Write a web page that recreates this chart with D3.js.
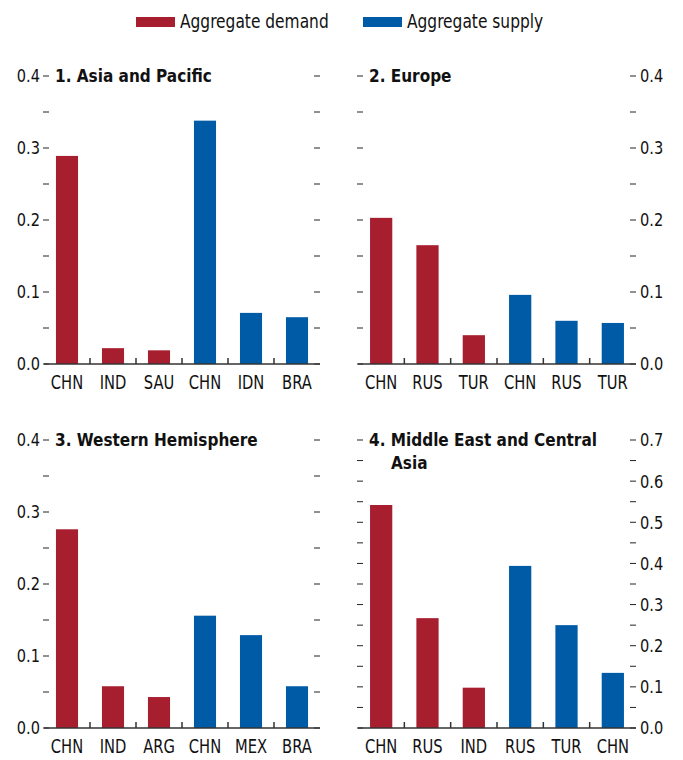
<!DOCTYPE html>
<html>
<head>
<meta charset="utf-8">
<script src="https://cdn.jsdelivr.net/npm/d3@7"></script>
<style>
  body { margin: 0; background: #fff; }
  svg text { font-family: "Liberation Sans Narrow", "DejaVu Sans Condensed", "Liberation Sans", sans-serif; fill: #111; }
</style>
</head>
<body>
<svg id="chart" width="683" height="760"></svg>
<script>
// DATA
const seriesNames = ["Aggregate demand", "Aggregate supply"];
const seriesColors = ["#A71F2F", "#005BA6"];

const asiaLabels = ["CHN", "IND", "SAU", "CHN", "IDN", "BRA"];
const asiaValues = [0.289, 0.022, 0.019, 0.338, 0.071, 0.065];

const europeLabels = ["CHN", "RUS", "TUR", "CHN", "RUS", "TUR"];
const europeValues = [0.203, 0.165, 0.040, 0.096, 0.060, 0.057];

const westLabels = ["CHN", "IND", "ARG", "CHN", "MEX", "BRA"];
const westValues = [0.276, 0.058, 0.043, 0.156, 0.129, 0.058];

const meLabels = ["CHN", "RUS", "IND", "RUS", "TUR", "CHN"];
const meValues = [0.542, 0.267, 0.098, 0.394, 0.250, 0.134];

// first three bars are demand, last three supply
const seriesOf = [0, 0, 0, 1, 1, 1];

const ticks04 = [0, 0.1, 0.2, 0.3, 0.4];
const ticks07 = [0, 0.1, 0.2, 0.3, 0.4, 0.5, 0.6, 0.7];

const panels = [
  { title: ["1. Asia and Pacific"], labels: asiaLabels, values: asiaValues, max: 0.4, ticks: ticks04,
    x0: 44, x1: 320, top: 76, bottom: 364, labelSide: "left" },
  { title: ["2. Europe"], labels: europeLabels, values: europeValues, max: 0.4, ticks: ticks04,
    x0: 358, x1: 636, top: 76, bottom: 364, labelSide: "right" },
  { title: ["3. Western Hemisphere"], labels: westLabels, values: westValues, max: 0.4, ticks: ticks04,
    x0: 44, x1: 320, top: 440, bottom: 728, labelSide: "left" },
  { title: ["4. Middle East and Central", "Asia"], labels: meLabels, values: meValues, max: 0.7, ticks: ticks07,
    x0: 358, x1: 636, top: 440, bottom: 728, labelSide: "right" }
];

const svg = d3.select("#chart");

// condensed-looking text: taller font squeezed horizontally
function narrowText(sel, x, y, sx) {
  return sel.attr("transform", `translate(${x},${y}) scale(${sx},1)`);
}

// LEGEND
const legend = svg.append("g");
const legendX = [136, 363];
seriesNames.forEach((name, i) => {
  legend.append("rect")
    .attr("x", legendX[i]).attr("y", 17)
    .attr("width", 39).attr("height", 10)
    .attr("fill", seriesColors[i]);
  legend.append("text")
    .call(narrowText, legendX[i] + 44, 28, 0.88)
    .attr("font-size", 19.5)
    .text(name);
});

// PANELS
panels.forEach(p => {
  const g = svg.append("g");

  const x = d3.scaleBand()
    .domain(d3.range(p.labels.length))
    .range([p.x0, p.x1])
    .padding(0);

  const y = d3.scaleLinear()
    .domain([0, p.max])
    .range([p.bottom, p.top]);

  const minor = d3.range(0, p.max + 0.001, 0.05);

  // ticks on both sides, pointing inward
  g.selectAll("line.tick-l")
    .data(minor)
    .join("line")
    .attr("x1", p.x0 - 1).attr("x2", p.x0 + 5)
    .attr("y1", d => y(d)).attr("y2", d => y(d))
    .attr("stroke", "#222").attr("stroke-width", 1);

  g.selectAll("line.tick-r")
    .data(minor)
    .join("line")
    .attr("x1", p.x1 - 6).attr("x2", p.x1)
    .attr("y1", d => y(d)).attr("y2", d => y(d))
    .attr("stroke", "#222").attr("stroke-width", 1);

  // tick labels
  const fmt = d3.format(".1f");
  g.selectAll("text.ytick")
    .data(p.ticks)
    .join("text")
    .attr("class", "ytick")
    .each(function(d) {
      d3.select(this).call(narrowText, p.labelSide === "left" ? p.x0 - 4 : p.x1 + 4, y(d), 0.9);
    })
    .attr("dy", "0.36em")
    .attr("text-anchor", p.labelSide === "left" ? "end" : "start")
    .attr("font-size", 18)
    .text(d => fmt(d));

  // bars
  const bw = x.bandwidth();
  g.selectAll("rect.bar")
    .data(p.values)
    .join("rect")
    .attr("class", "bar")
    .attr("x", (d, i) => x(i) + bw * 0.26)
    .attr("width", bw * 0.48)
    .attr("y", d => y(d))
    .attr("height", d => y(0) - y(d))
    .attr("fill", (d, i) => seriesColors[seriesOf[i]]);

  // baseline
  g.append("line")
    .attr("x1", p.x0).attr("x2", p.x1)
    .attr("y1", y(0)).attr("y2", y(0))
    .attr("stroke", "#333").attr("stroke-width", 1.5);

  // category separators
  g.selectAll("line.sep")
    .data(d3.range(1, p.labels.length))
    .join("line")
    .attr("x1", d => x(d)).attr("x2", d => x(d))
    .attr("y1", y(0)).attr("y2", y(0) - 6)
    .attr("stroke", "#333").attr("stroke-width", 1.5);

  // category labels
  g.selectAll("text.xlab")
    .data(p.labels)
    .join("text")
    .attr("class", "xlab")
    .each(function(d, i) {
      d3.select(this).call(narrowText, x(i) + bw / 2, y(0) + 25, 0.84);
    })
    .attr("text-anchor", "middle")
    .attr("font-size", 19.5)
    .text(d => d);

  // title
  p.title.forEach((t, k) => {
    g.append("text")
      .attr("x", p.x0 + 11 + (k > 0 ? 22 : 0))
      .attr("y", p.top + 6 + k * 23)
      .attr("font-size", 17)
      .attr("font-weight", "bold")
      .text(t);
  });
});
</script>
</body>
</html>
